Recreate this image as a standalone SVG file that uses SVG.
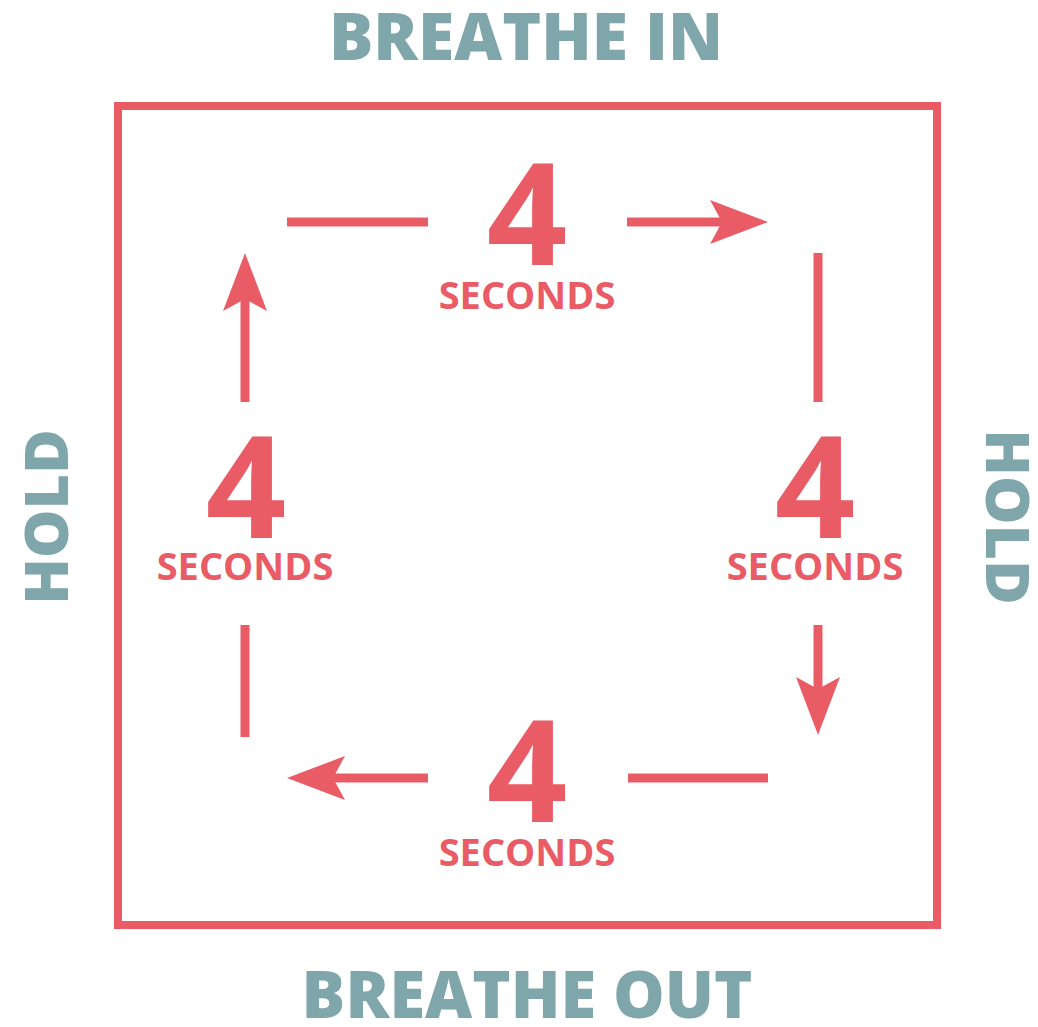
<svg xmlns="http://www.w3.org/2000/svg" width="1038" height="1027" viewBox="0 0 1038 1027">
<style>
.lbl{font-family:"Open Sans","Noto Sans","Liberation Sans",sans-serif;font-weight:800;fill:#7fa6aa;text-anchor:middle}
.num{font-family:"Open Sans","Noto Sans","Liberation Sans",sans-serif;font-weight:700;fill:#e95c66;text-anchor:middle}
.big{font-size:141px}
.sec{font-size:38px}
.c{stroke:#e95c66;stroke-width:9;fill:none}
</style>
<defs>
<marker id="ah" viewBox="0 0 58 44" markerWidth="58" markerHeight="44" refX="30" refY="22" markerUnits="userSpaceOnUse" orient="auto">
<path d="M0,0 L58,22 L0,44 L12,22 Z" fill="#e95c66"/>
</marker>
</defs>
<rect width="1038" height="1027" fill="#ffffff"/>
<g id="frame"><rect x="118" y="106" width="819" height="819" fill="none" stroke="#e95c66" stroke-width="8"/></g>
<g id="label-top"><text class="lbl" x="526" y="60" font-size="66">BREATHE IN</text></g>
<g id="label-bottom"><text class="lbl" x="527" y="1018" font-size="65">BREATHE OUT</text></g>
<g id="label-left"><text class="lbl" transform="translate(68,517) rotate(-90)" x="0" y="0" font-size="61">HOLD</text></g>
<g id="label-right"><text class="lbl" transform="translate(986,517) rotate(90)" x="0" y="0" font-size="61">HOLD</text></g>
<g id="node-top"><text class="num big" x="527" y="265">4</text><text class="num sec" x="527" y="309">SECONDS</text></g>
<g id="node-right"><text class="num big" x="815" y="538">4</text><text class="num sec" x="815" y="580">SECONDS</text></g>
<g id="node-bottom"><text class="num big" x="527" y="822">4</text><text class="num sec" x="527" y="866">SECONDS</text></g>
<g id="node-left"><text class="num big" x="246" y="538">4</text><text class="num sec" x="245" y="580">SECONDS</text></g>
<g id="connectors">
<line class="c" x1="287" y1="222" x2="428" y2="222"/>
<line class="c" x1="627" y1="222" x2="740" y2="222" marker-end="url(#ah)"/>
<line class="c" x1="818" y1="253" x2="818" y2="402"/>
<line class="c" x1="818" y1="625" x2="818" y2="707" marker-end="url(#ah)"/>
<line class="c" x1="768" y1="778" x2="628" y2="778"/>
<line class="c" x1="428" y1="778" x2="315" y2="778" marker-end="url(#ah)"/>
<line class="c" x1="245" y1="737" x2="245" y2="625"/>
<line class="c" x1="245" y1="402" x2="245" y2="281" marker-end="url(#ah)"/>
</g>
</svg>
